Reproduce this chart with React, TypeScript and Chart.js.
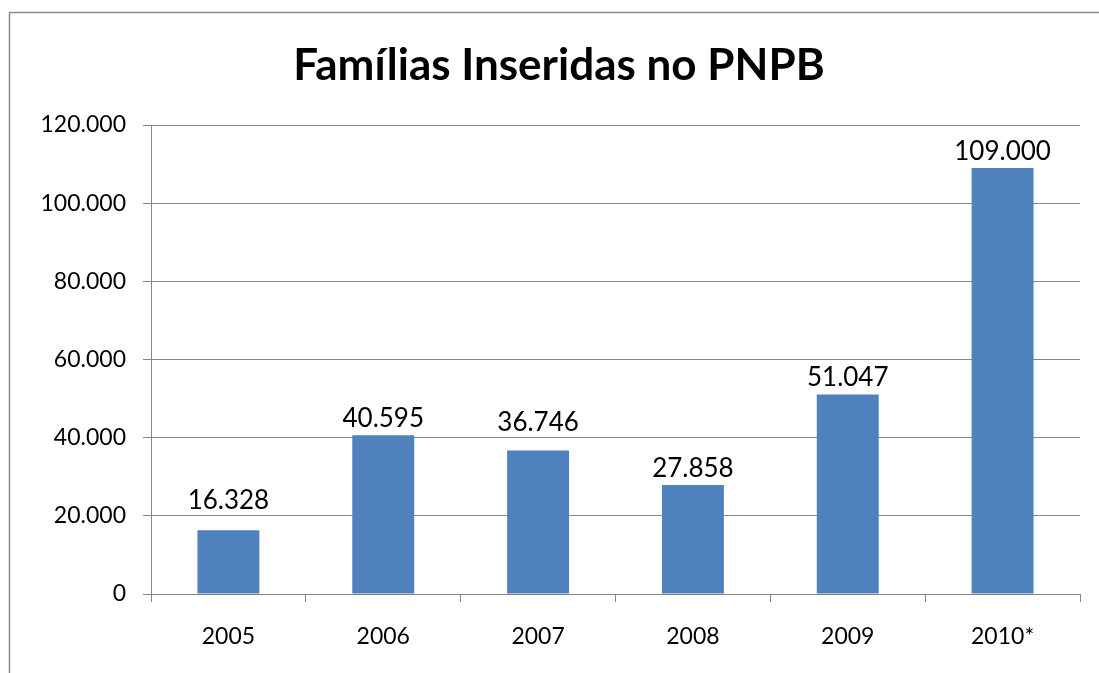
import React, { useEffect, useRef } from "react";
import { Chart, registerables } from "chart.js";

Chart.register(...registerables);

const categories = ["2005", "2006", "2007", "2008", "2009", "2010*"];
const familias = [16328, 40595, 36746, 27858, 51047, 109000];
const yTicks = [0, 20000, 40000, 60000, 80000, 100000, 120000];
const chartTitle = "Famílias Inseridas no PNPB";

const FONT = "Lato, 'Open Sans', sans-serif";
const GRID = "#868686";
const BAR = "#4F81BD";

const fmt = (n: number) =>
  Math.round(n).toString().replace(/\B(?=(\d{3})+(?!\d))/g, ".");

const framePlugin = {
  id: "frameAndTitle",
  beforeDraw(chart: any) {
    const ctx = chart.ctx;
    ctx.save();
    ctx.fillStyle = "#ffffff";
    ctx.fillRect(0, 0, chart.width, chart.height);
    ctx.strokeStyle = "#8a8a8a";
    ctx.lineWidth = 1.5;
    ctx.beginPath();
    ctx.moveTo(9.5, chart.height);
    ctx.lineTo(9.5, 12.5);
    ctx.lineTo(chart.width, 12.5);
    ctx.stroke();
    ctx.fillStyle = "#000000";
    ctx.font = `bold 44px ${FONT}`;
    ctx.textAlign = "center";
    ctx.textBaseline = "alphabetic";
    ctx.fillText(chartTitle, 559, 80);
    ctx.restore();
  },
  afterDatasetsDraw(chart: any) {
    const ctx = chart.ctx;
    const yScale = chart.scales.y;
    const meta = chart.getDatasetMeta(0);
    const gridYs = yTicks.map((t) => yScale.getPixelForValue(t));
    const fontSize = 26;
    const capH = fontSize * 0.72;
    ctx.save();
    ctx.font = `${fontSize}px ${FONT}`;
    ctx.fillStyle = "#000000";
    ctx.textAlign = "center";
    ctx.textBaseline = "alphabetic";
    meta.data.forEach((bar: any, i: number) => {
      let base = bar.y - 8;
      for (const g of gridYs) {
        if (g > base - capH - 2 && g < base + 2) {
          base = g - 7;
        }
      }
      ctx.fillText(fmt(familias[i]), bar.x, base);
    });
    ctx.restore();
  },
};

export default function App() {
  const ref = useRef<HTMLCanvasElement | null>(null);
  useEffect(() => {
    let chart: Chart | null = null;
    let cancelled = false;
    const create = () => {
      if (cancelled || !ref.current) return;
      chart = new Chart(ref.current, {
        type: "bar",
        data: {
          labels: categories,
          datasets: [
            {
              data: familias,
              backgroundColor: BAR,
              borderWidth: 0,
              barPercentage: 0.5,
              categoryPercentage: 0.8,
            },
          ],
        },
        options: {
          responsive: false,
          animation: false,
          devicePixelRatio: 1,
          layout: { padding: { left: 0, top: 125, right: 19, bottom: 0 } },
          plugins: {
            legend: { display: false },
            title: { display: false },
            tooltip: { enabled: false },
          },
          scales: {
            y: {
              min: 0,
              max: 120000,
              afterFit: (s: any) => {
                s.width = 151;
              },
              afterBuildTicks: (s: any) => {
                s.ticks = yTicks.map((v) => ({ value: v }));
              },
              ticks: {
                color: "#000000",
                font: { family: FONT, size: 23 },
                padding: 17,
                callback: (v: any) => fmt(Number(v)),
              },
              grid: {
                color: GRID,
                lineWidth: 1,
                tickLength: 8,
                drawTicks: true,
              },
              border: { color: GRID, width: 1 },
            },
            x: {
              afterFit: (s: any) => {
                s.height = 79;
              },
              ticks: {
                color: "#000000",
                font: { family: FONT, size: 23 },
                padding: 21,
              },
              grid: {
                drawOnChartArea: false,
                drawTicks: true,
                tickLength: 8,
                color: GRID,
                offset: true,
              },
              border: { color: GRID, width: 1 },
            },
          },
        },
        plugins: [framePlugin],
      });
    };
    const fonts = (document as any).fonts;
    if (fonts && fonts.load) {
      Promise.all([
        fonts.load(`23px Lato`),
        fonts.load(`26px Lato`),
        fonts.load(`bold 44px Lato`),
      ])
        .catch(() => null)
        .then(create);
    } else {
      create();
    }
    return () => {
      cancelled = true;
      if (chart) chart.destroy();
    };
  }, []);
  return (
    <div
      style={{
        position: "fixed",
        left: 0,
        top: 0,
        width: 1099,
        height: 673,
        background: "#ffffff",
      }}
    >
      <canvas ref={ref} width={1099} height={673} />
    </div>
  );
}
